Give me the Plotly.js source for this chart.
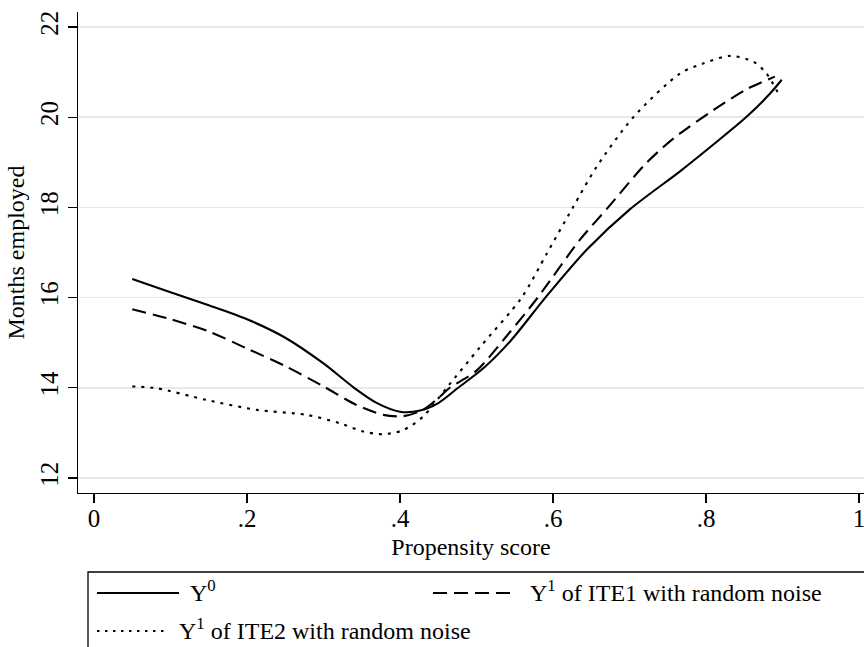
<!DOCTYPE html>
<html>
<head>
<meta charset="utf-8">
<script src="https://cdn.plot.ly/plotly-3.0.1.min.js"></script>
<style>
  html, body { margin: 0; padding: 0; background: #ffffff; overflow: hidden; }
  #chart { width: 864px; height: 647px; }
</style>
</head>
<body>
<div id="chart"></div>
<script>
// ---- Data ----
const seriesNames = ["Y<sup>0</sup>", "Y<sup>1</sup> of ITE1 with random noise", "Y<sup>1</sup> of ITE2 with random noise"];

const y0X = [0.05, 0.10, 0.15, 0.20, 0.25, 0.30, 0.34, 0.37, 0.40, 0.425, 0.45, 0.476, 0.51, 0.545, 0.59, 0.644, 0.70, 0.766, 0.81, 0.853, 0.884, 0.899];
const y0Y = [16.41, 16.12, 15.83, 15.52, 15.11, 14.54, 14.00, 13.66, 13.47, 13.49, 13.66, 14.00, 14.45, 15.05, 16.00, 17.06, 17.95, 18.80, 19.40, 20.01, 20.53, 20.83];

const ite1X = [0.05, 0.10, 0.15, 0.20, 0.25, 0.30, 0.343, 0.378, 0.404, 0.43, 0.452, 0.465, 0.50, 0.54, 0.58, 0.635, 0.672, 0.72, 0.745, 0.766, 0.81, 0.853, 0.89];
const ite1Y = [15.74, 15.52, 15.25, 14.87, 14.48, 14.03, 13.62, 13.40, 13.37, 13.51, 13.80, 14.00, 14.38, 15.16, 16.00, 17.28, 18.00, 18.95, 19.35, 19.64, 20.16, 20.62, 20.90];

const ite2X = [0.05, 0.082, 0.147, 0.213, 0.278, 0.322, 0.352, 0.378, 0.404, 0.43, 0.461, 0.505, 0.559, 0.592, 0.626, 0.657, 0.705, 0.766, 0.796, 0.831, 0.862, 0.879, 0.897];
const ite2Y = [14.03, 13.99, 13.73, 13.51, 13.40, 13.21, 13.03, 12.97, 13.06, 13.36, 14.00, 14.91, 16.00, 16.98, 18.00, 18.90, 20.00, 20.97, 21.19, 21.36, 21.23, 20.97, 20.45];

const xTickVals = [0, 0.2, 0.4, 0.6, 0.8, 1];
const xTickText = ["0", ".2", ".4", ".6", ".8", "1"];
const yTickVals = [12, 14, 16, 18, 20, 22];
const yTickText = ["12", "14", "16", "18", "20", "22"];

// ---- Styling / layout ----
const FONT = "'Liberation Serif', 'Times New Roman', serif";
const W = 864, H = 647;
const L = 78, R = 864, T = 12, B = 493;
const px = x => (x - L) / (R - L);
const py = y => (B - y) / (B - T);

const lineW = 2.1;
const DASH = "14px,7px";
const DOT = "3px,6px";
const traces = [
  { x: y0X, y: y0Y, name: seriesNames[0], type: "scatter", mode: "lines",
    line: { color: "#000000", width: lineW, dash: "solid", shape: "spline", smoothing: 0.8 } },
  { x: ite1X, y: ite1Y, name: seriesNames[1], type: "scatter", mode: "lines",
    line: { color: "#000000", width: lineW, dash: DASH, shape: "spline", smoothing: 0.8 } },
  { x: ite2X, y: ite2Y, name: seriesNames[2], type: "scatter", mode: "lines",
    line: { color: "#000000", width: lineW, dash: DOT, shape: "spline", smoothing: 0.8 } }
];

// manual Stata-style legend
const legendRows = [
  { x0: 97, x1: 179, y: 593, dash: "solid", tx: 188, ty: 591, text: seriesNames[0] },
  { x0: 433, x1: 511, y: 593, dash: DASH, tx: 528, ty: 591, text: seriesNames[1] },
  { x0: 97, x1: 168, y: 631, dash: "2.5px,5.5px", tx: 177, ty: 629, text: seriesNames[2] }
];

const shapes = [
  { type: "rect", xref: "paper", yref: "paper", x0: px(88), x1: px(872), y0: py(572), y1: py(660),
    line: { color: "#000000", width: 1.3 }, fillcolor: "rgba(0,0,0,0)", layer: "above" }
];
const annotations = [];
legendRows.forEach(r => {
  shapes.push({ type: "line", xref: "paper", yref: "paper", x0: px(r.x0), x1: px(r.x1), y0: py(r.y), y1: py(r.y),
    line: { color: "#000000", width: lineW, dash: r.dash } });
  annotations.push({ xref: "paper", yref: "paper", x: px(r.tx), y: py(r.ty), xanchor: "left", yanchor: "middle",
    text: r.text, showarrow: false, font: { family: FONT, size: 24, color: "#000000" } });
});

const layout = {
  width: W, height: H,
  margin: { l: L, r: W - R, t: T, b: H - B, pad: 0 },
  paper_bgcolor: "#ffffff", plot_bgcolor: "#ffffff",
  showlegend: false,
  font: { family: FONT, size: 24, color: "#000000" },
  xaxis: {
    range: [-0.0209, 1.0065], tickmode: "array", tickvals: xTickVals, ticktext: xTickText,
    showgrid: false, zeroline: false, showline: true, linecolor: "#000000", linewidth: 1.3,
    ticks: "outside", ticklen: 9, tickwidth: 1.3, tickcolor: "#000000",
    ticklabelstandoff: -6, ticklabeloverflow: "allow",
    tickfont: { family: FONT, size: 25, color: "#000000" },
    title: { text: "Propensity score", font: { family: FONT, size: 24, color: "#000000" }, standoff: 7 },
    automargin: false
  },
  yaxis: {
    range: [11.667, 22.333], tickmode: "array", tickvals: yTickVals, ticktext: yTickText,
    showgrid: true, gridcolor: "#e8e8e8", gridwidth: 1.5, zeroline: false,
    showline: true, linecolor: "#000000", linewidth: 1.3,
    ticks: "outside", ticklen: 9, tickwidth: 1.3, tickcolor: "#000000",
    tickangle: -90, ticklabeloverflow: "allow",
    tickfont: { family: FONT, size: 25, color: "#000000" },
    title: { text: "Months employed", font: { family: FONT, size: 24, color: "#000000" }, standoff: 4 },
    automargin: false
  },
  shapes: shapes,
  annotations: annotations
};

Plotly.newPlot("chart", traces, layout, { displayModeBar: false, staticPlot: true });
</script>
</body>
</html>
